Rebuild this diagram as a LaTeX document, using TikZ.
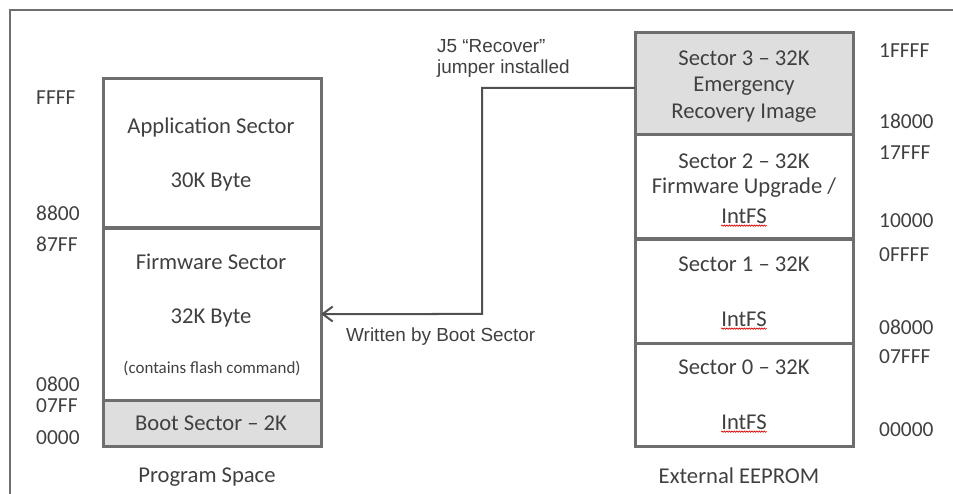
\documentclass[tikz,border=0pt]{standalone}
\usepackage{fontspec}
\setmainfont{Carlito}
\newfontfamily\arialf{Liberation Sans}
\usetikzlibrary{arrows.meta,decorations.pathmorphing}
\definecolor{boxline}{HTML}{6E6E6E}
\definecolor{shade}{HTML}{DEDEDE}
\definecolor{ink}{HTML}{404040}
\definecolor{wire}{HTML}{505050}
\begin{document}
\begin{tikzpicture}[x=1bp,y=-1bp,
  sector/.style={draw=boxline, line width=3bp, anchor=north west, inner sep=0, outer sep=0, minimum width=218bp},
  txt/.style={text=ink, font=\fontsize{22.7}{26}\selectfont, inner sep=0},
  addr/.style={text=ink, font=\fontsize{21.5}{25}\selectfont, inner sep=0, anchor=west},
  small/.style={text=ink, font=\fontsize{17}{20}\selectfont, inner sep=0},
  note/.style={text=ink, font=\arialf\fontsize{19}{23}\selectfont, inner sep=0, anchor=west},
  conn/.style={draw=wire, line width=2bp, -{Straight Barb[length=10bp,width=15bp,line width=2bp]}},
  spell/.style={draw=red!85!black, line width=0.6bp, decorate, decoration={snake, amplitude=0.7bp, segment length=2.5bp}}]

% page area and outer frame
\clip (0,0) rectangle (953,494);
\draw[draw=boxline, line width=2bp] (10,10) rectangle (1000,560);

% program space
\node[sector, minimum height=149bp] (app) at (103,79) {};
\node[sector, minimum height=172bp] (fw) at (103,228) {};
\node[sector, minimum height=46bp, fill=shade] (boot) at (103,400) {};

\node[txt] (appT1) at (211,127) {Application Sector};
\node[txt] (appT2) at (211,182) {30K Byte};
\node[txt] (fwT1) at (211,262) {Firmware Sector};
\node[txt] (fwT2) at (211,318) {32K Byte};
\node[small] (fwT3) at (212,368) {(contains flash command)};
\node[txt] (bootT) at (211,423) {Boot Sector – 2K};
\node[txt] (psT) at (207,477) {Program Space};

\node[addr] (aFFFF) at (36,98) {FFFF};
\node[addr] (a8800) at (36,213) {8800};
\node[addr] (a87FF) at (36,244) {87FF};
\node[addr] (a0800) at (36,384) {0800};
\node[addr] (a07FF) at (36,406) {07FF};
\node[addr] (a0000) at (36,438) {0000};

% external EEPROM
\node[sector, minimum height=102bp, fill=shade] (s3) at (635,33) {};
\node[sector, minimum height=104bp] (s2) at (635,135) {};
\node[sector, minimum height=104bp] (s1) at (635,239) {};
\node[sector, minimum height=103bp] (s0) at (635,343) {};

\node[txt] (s3T1) at (744,58) {Sector 3 – 32K};
\node[txt] (s3T2) at (744,86) {Emergency};
\node[txt] (s3T3) at (744,113) {Recovery Image};
\node[txt] (s2T1) at (744,161) {Sector 2 – 32K};
\node[txt] (s2T2) at (744,188) {Firmware Upgrade /};
\node[txt] (s2T3) at (744,216) {IntFS};
\node[txt] (s1T1) at (744,264) {Sector 1 – 32K};
\node[txt] (s1T2) at (744,319) {IntFS};
\node[txt] (s0T1) at (744,367) {Sector 0 – 32K};
\node[txt] (s0T2) at (744,422) {IntFS};
\node[txt] (eeT) at (739,476) {External EEPROM};

\foreach \n in {s2T3,s1T2,s0T2}
  \draw[spell] ([yshift=-2bp]\n.south west) -- ([yshift=-2bp]\n.south east);

\node[addr] (b1FFFF) at (879,51) {1FFFF};
\node[addr] (b18000) at (879,121) {18000};
\node[addr] (b17FFF) at (879,153) {17FFF};
\node[addr] (b10000) at (879,221) {10000};
\node[addr] (b0FFFF) at (879,255) {0FFFF};
\node[addr] (b08000) at (879,327) {08000};
\node[addr] (b07FFF) at (879,357) {07FFF};
\node[addr] (b00000) at (879,430) {00000};

% recovery path
\coordinate (jog) at (482,314);
\draw[conn] ([yshift=-4bp]s3.west) -| (jog) -- (fw.east);

\node[note] (j5a) at (437,46) {J5 “Recover”};
\node[note] (j5b) at (437,69) {jumper installed};
\node[note] (wb) at (346,337) {Written by Boot Sector};
\end{tikzpicture}
\end{document}
